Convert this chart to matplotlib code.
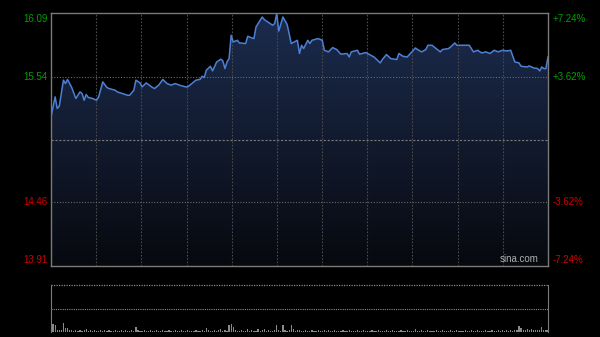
import numpy as np
import matplotlib
matplotlib.use("Agg")
import matplotlib.pyplot as plt
from matplotlib.colors import LinearSegmentedColormap

plt.rcParams['font.family'] = ['Liberation Sans', 'DejaVu Sans']

# intraday price, sampled (minute index, price)
minutes = [0, 2, 3, 4, 6, 7, 8, 10, 12, 14, 15, 16, 17, 18, 20, 22, 23, 25, 27, 28,
           31, 32, 37, 38, 40, 41, 43, 44, 46, 49, 50, 52, 54, 56, 58, 60, 62, 65, 66, 68,
           70, 72, 73, 74, 75, 77, 78, 80, 82, 83, 84, 85, 86, 87, 88, 90, 91, 94, 95, 97,
           98, 99, 101, 102, 103, 107, 108, 109, 110, 112, 114, 115, 116, 119, 120, 121, 122, 124, 125, 126,
           129, 131, 132, 134, 136, 138, 140, 143, 144, 145, 148, 149, 152, 156, 159, 160, 162, 164, 167, 168,
           170, 172, 176, 177, 179, 181, 182, 184, 188, 189, 192, 193, 195, 196, 197, 202, 204, 206, 208, 210,
           212, 214, 216, 218, 220, 222, 224, 226, 227, 230, 231, 233, 235, 236, 237, 238, 239, 240]
prices = [15.196, 15.369, 15.269, 15.289, 15.513, 15.484, 15.519, 15.450, 15.355, 15.412,
          15.398, 15.340, 15.389, 15.364, 15.355, 15.340, 15.369, 15.498, 15.450, 15.441,
          15.426, 15.412, 15.383, 15.383, 15.426, 15.513, 15.489, 15.455, 15.489, 15.450,
          15.441, 15.470, 15.519, 15.484, 15.470, 15.484, 15.470, 15.455, 15.455, 15.484,
          15.513, 15.520, 15.547, 15.536, 15.599, 15.633, 15.593, 15.670, 15.694, 15.679,
          15.613, 15.670, 15.700, 15.900, 15.843, 15.857, 15.834, 15.829, 15.892, 15.877,
          15.872, 15.972, 16.030, 16.058, 16.036, 15.987, 16.001, 16.087, 15.937, 16.058,
          15.995, 15.915, 15.829, 15.857, 15.743, 15.814, 15.786, 15.857, 15.829, 15.857,
          15.872, 15.857, 15.771, 15.757, 15.794, 15.777, 15.737, 15.743, 15.713, 15.757,
          15.771, 15.737, 15.751, 15.713, 15.662, 15.691, 15.734, 15.700, 15.691, 15.743,
          15.719, 15.713, 15.791, 15.777, 15.757, 15.777, 15.814, 15.814, 15.757, 15.777,
          15.786, 15.800, 15.834, 15.814, 15.814, 15.814, 15.757, 15.771, 15.748, 15.757,
          15.743, 15.771, 15.757, 15.771, 15.765, 15.771, 15.670, 15.662, 15.633, 15.627,
          15.636, 15.619, 15.613, 15.593, 15.627, 15.613, 15.613, 15.713]

# per-minute volume (relative units)
volume = [9, 9, 8, 2, 2, 3, 10, 5, 5, 2, 2, 1, 2, 1, 2, 1, 2, 4, 1, 2,
          1, 2, 1, 1, 2, 1, 3, 1, 2, 1, 1, 2, 1, 1, 3, 1, 2, 1, 1, 2,
          1, 6, 2, 1, 1, 2, 1, 1, 2, 1, 1, 2, 1, 1, 3, 1, 1, 2, 1, 1,
          2, 1, 1, 2, 1, 1, 2, 1, 1, 1, 2, 1, 1, 2, 1, 5, 2, 1, 1, 2,
          1, 2, 4, 1, 2, 1, 8, 9, 6, 2, 1, 1, 2, 1, 1, 4, 1, 2, 1, 1,
          4, 1, 2, 4, 1, 2, 1, 1, 2, 8, 2, 1, 8, 2, 1, 2, 8, 4, 1, 2,
          2, 1, 1, 2, 1, 1, 2, 1, 1, 2, 1, 1, 2, 1, 2, 1, 1, 2, 1, 1,
          1, 2, 1, 1, 2, 1, 1, 1, 2, 1, 1, 2, 1, 1, 1, 2, 1, 1, 2, 1,
          1, 1, 2, 1, 1, 2, 1, 1, 1, 2, 1, 1, 2, 1, 1, 1, 4, 1, 1, 2,
          1, 1, 2, 1, 1, 1, 2, 1, 1, 2, 1, 1, 1, 2, 1, 1, 2, 1, 1, 1,
          2, 1, 1, 2, 1, 1, 2, 1, 1, 1, 2, 1, 1, 2, 1, 1, 2, 1, 2, 1,
          2, 1, 2, 1, 2, 2, 7, 5, 2, 3, 4, 2, 4, 2, 3, 2, 2, 6, 2, 2,
          3]

prev_close = 15.00
left_labels = ['16.09', '15.54', '14.46', '13.91']
right_labels = ['+7.24%', '+3.62%', '-3.62%', '-7.24%']
label_values = [16.09, 15.54, 14.46, 13.91]
label_colors = ['#00a000', '#00a000', '#d00000', '#d00000']

fig = plt.figure(figsize=(6, 3.37), dpi=100, facecolor='black')
ax = fig.add_axes([0.085, 0.2107, 0.8283, 0.7499])
vax = fig.add_axes([0.085, 0.0134, 0.8283, 0.1401])

ymin, ymax = 13.91, 16.09
ax.set_facecolor('black')
ax.set_xlim(0, 240)
ax.set_ylim(ymin, ymax)

# gradient fill under the price line
cmap = LinearSegmentedColormap.from_list('fill', ['#07090f', '#1c2c4e'])
grad = np.linspace(0, 1, 256).reshape(-1, 1)
img = ax.imshow(grad, extent=[0, 240, ymin, ymax], origin='lower', aspect='auto',
                cmap=cmap, zorder=1)
poly = ax.fill_between(minutes, prices, ymin, color='none', lw=0)
img.set_clip_path(poly.get_paths()[0], transform=ax.transData)

ax.plot(minutes, prices, color='#4d80d4', lw=1.1, zorder=4)

# grid
for k in range(1, 11):
    ax.axvline(240 * k / 11, color='#4a4a4a', lw=0.8, ls=(0, (1.5, 1.5)), zorder=3)
for v in [15.54, 14.46]:
    ax.axhline(v, color='#6a6a6a', lw=0.8, ls=(0, (1, 1.5)), zorder=3)
ax.axhline(prev_close, color='#7a7a7a', lw=0.8, ls=(0, (2, 1.5)), zorder=3)

for s in ax.spines.values():
    s.set_color('#7a7a7a')
    s.set_linewidth(1)
ax.set_xticks([])
ax.set_yticks([])

vas = ['top', 'center', 'center', 'bottom']
for val, lt, rt, col, va in zip(label_values, left_labels, right_labels, label_colors, vas):
    off = {'top': -0.005, 'center': 0, 'bottom': 0.01}[va]
    ax.text(-1.5, val + off, lt, color=col, fontsize=7, ha='right', va=va)
    ax.text(242, val + off, rt, color=col, fontsize=7, ha='left', va=va)

ax.text(235.5, ymin + 0.02, 'sina.com', color='#b0b0b0', fontsize=7,
        ha='right', va='bottom', zorder=5)

# volume panel
vax.set_facecolor('black')
vax.bar(np.arange(len(volume)), volume, width=0.6, color='#8a8a8a', lw=0)
vax.set_xlim(0, 240)
vax.set_ylim(0, 47.5)
vax.axhline(47.5 / 2, color='#8a8a8a', lw=0.8, ls=(0, (1, 1)))
vax.axhline(47.5, color='#8a8a8a', lw=0.9, ls=(0, (1, 1)), clip_on=False)
for side in ['top', 'bottom']:
    vax.spines[side].set_visible(False)
for side in ['left', 'right']:
    vax.spines[side].set_color('#7a7a7a')
vax.set_xticks([])
vax.set_yticks([])

fig.savefig('out.png', dpi=100, facecolor='black')
